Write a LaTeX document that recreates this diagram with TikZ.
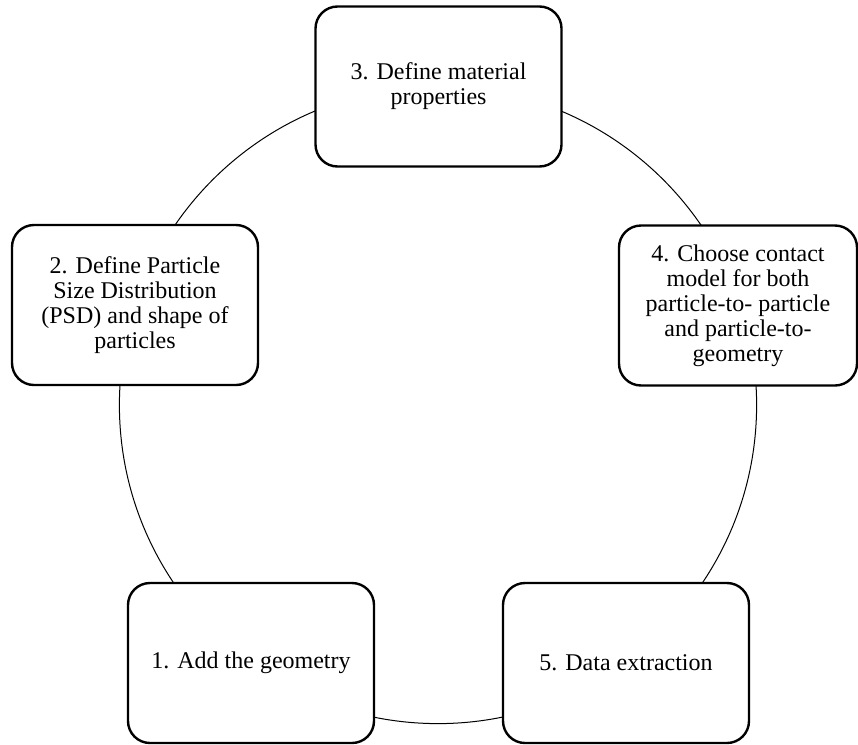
\documentclass[tikz,border=0pt]{standalone}
\usepackage{fontspec}
\setmainfont{Liberation Serif}
\begin{document}
\begin{tikzpicture}[x=1pt,y=-1pt,
  stepbox/.style={draw, line width=2.4pt, fill=white, rounded corners=22pt,
    minimum width=246pt, minimum height=160pt, inner sep=0pt,
    align=center, font=\fontsize{24}{25}\selectfont},
  ring/.style={line width=1pt}]
\useasboundingbox (0,0) rectangle (858,744);
\clip (0,0) rectangle (858,744);
% cycle ring behind the five steps
\coordinate (c) at (438,405);
\draw[ring] (c) circle[radius=318.6pt];
% steps
\node[stepbox] (s3) at (438.5,86.5) {3. Define material\\properties};
\node[stepbox, minimum width=238pt] (s4) at (738,305.5)
  {4. Choose contact\\model for both\\particle-to- particle\\and particle-to-\\geometry};
\node[stepbox] (s5) at (626,663) {5. Data extraction};
\node[stepbox] (s1) at (251,663) {1. Add the geometry};
\node[stepbox] (s2) at (135,305)
  {2. Define Particle\\Size Distribution\\(PSD) and shape of\\particles};
\end{tikzpicture}
\end{document}
